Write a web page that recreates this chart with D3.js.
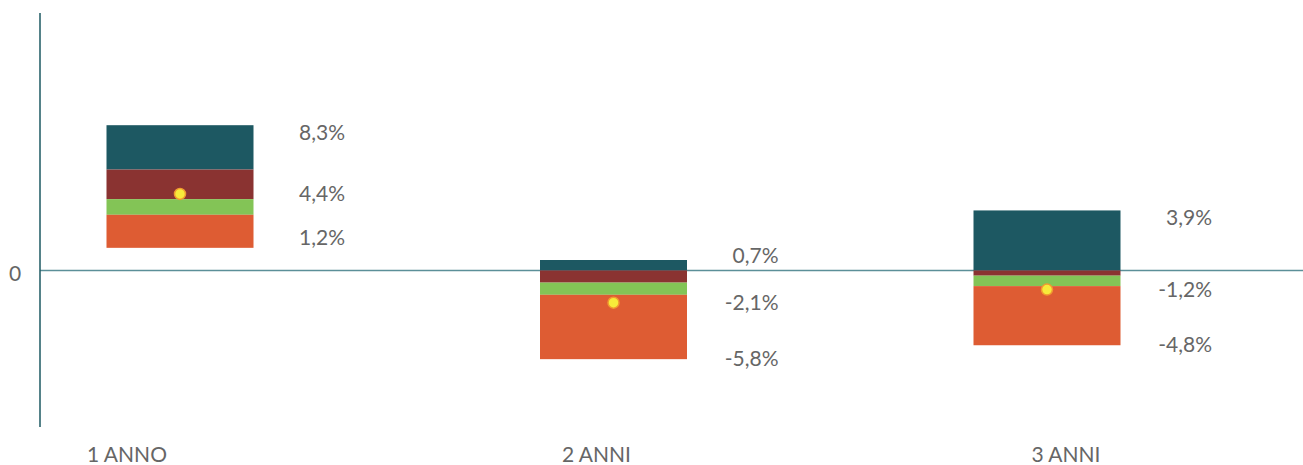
<!DOCTYPE html>
<html>
<head>
<meta charset="utf-8">
<script src="https://cdn.jsdelivr.net/npm/d3@7"></script>
<style>
  html, body { margin: 0; padding: 0; background: #fff; }
  svg { display: block; }
  text { font-family: Lato, "Open Sans", sans-serif; fill: #666666; }
</style>
</head>
<body>
<svg id="chart" width="1303" height="465"></svg>
<script>
// ---- data ----
const categories = ["1 ANNO", "2 ANNI", "3 ANNI"];
// segment boundaries, top to bottom (in %)
const bestCase   = [8.35, 0.6, 3.45];
const upperMid   = [5.8, 0.0, 0.0];
const middle     = [4.1, -0.7, -0.3];
const lowerMid   = [3.2, -1.4, -0.9];
const worstCase  = [1.3, -5.1, -4.3];
const medianVal  = [4.4, -1.85, -1.1];
// printed labels
const topLabels    = ["8,3%", "0,7%", "3,9%"];
const medianLabels = ["4,4%", "-2,1%", "-1,2%"];
const bottomLabels = ["1,2%", "-5,8%", "-4,8%"];
const segColors = ["#1d5862", "#8a3331", "#83c456", "#de5c33"];

// ---- layout ----
const svg = d3.select("#chart");
const y = d3.scaleLinear().domain([-9, 14.8]).range([427, 13]);
const xBar = d3.scalePoint().domain(categories).range([180, 1047]);
const xCat = d3.scalePoint().domain(categories).range([127, 1066]);
const barW = 147;
const fs = 21;
const y0 = y(0);

// zero line
svg.append("line")
  .attr("x1", 40).attr("x2", 1303)
  .attr("y1", y0).attr("y2", y0)
  .attr("stroke", "#5b8f98").attr("stroke-width", 1.5);

// vertical axis
svg.append("line")
  .attr("x1", 40).attr("x2", 40)
  .attr("y1", y.range()[1]).attr("y2", y.range()[0])
  .attr("stroke", "#1d5862").attr("stroke-width", 1.5);

svg.append("text")
  .attr("x", 15).attr("y", y0 + 3).attr("dy", "0.35em")
  .attr("text-anchor", "middle")
  .attr("font-size", fs)
  .text("0");

// bars
const bounds = categories.map((c, i) => [bestCase[i], upperMid[i], middle[i], lowerMid[i], worstCase[i]]);
const g = svg.append("g");
categories.forEach((c, i) => {
  const b = bounds[i];
  for (let s = 0; s < 4; s++) {
    g.append("rect")
      .attr("x", xBar(c) - barW / 2)
      .attr("width", barW)
      .attr("y", y(b[s]))
      .attr("height", Math.max(0, y(b[s + 1]) - y(b[s])))
      .attr("fill", segColors[s]);
  }
  // median dot
  g.append("circle")
    .attr("cx", xBar(c))
    .attr("cy", y(medianVal[i]))
    .attr("r", 5.5)
    .attr("fill", "#f7ea3a")
    .attr("stroke", "#f09a30")
    .attr("stroke-width", 1.5);

  const lx = xBar(c) + 165;
  // keep labels clear of the zero line
  let ty = y(b[0]) + 7;
  if (ty > y0 - 15 && ty < y0 + 15) ty = y0 - 15;
  let by = y(b[4]) - 1;
  if (b[4] > 0) by = Math.min(by, y0 - 33);
  g.append("text").attr("x", lx).attr("y", ty).attr("dy", "0.35em")
    .attr("text-anchor", "end").attr("font-size", fs).text(topLabels[i]);
  g.append("text").attr("x", lx).attr("y", y(medianVal[i])).attr("dy", "0.35em")
    .attr("text-anchor", "end").attr("font-size", fs).text(medianLabels[i]);
  g.append("text").attr("x", lx).attr("y", by).attr("dy", "0.35em")
    .attr("text-anchor", "end").attr("font-size", fs).text(bottomLabels[i]);
});

// category labels
svg.selectAll("text.cat").data(categories).enter().append("text")
  .attr("class", "cat")
  .attr("x", d => xCat(d))
  .attr("y", 455).attr("dy", "0.35em")
  .attr("text-anchor", "middle")
  .attr("font-size", fs)
  .text(d => d);
</script>
</body>
</html>
